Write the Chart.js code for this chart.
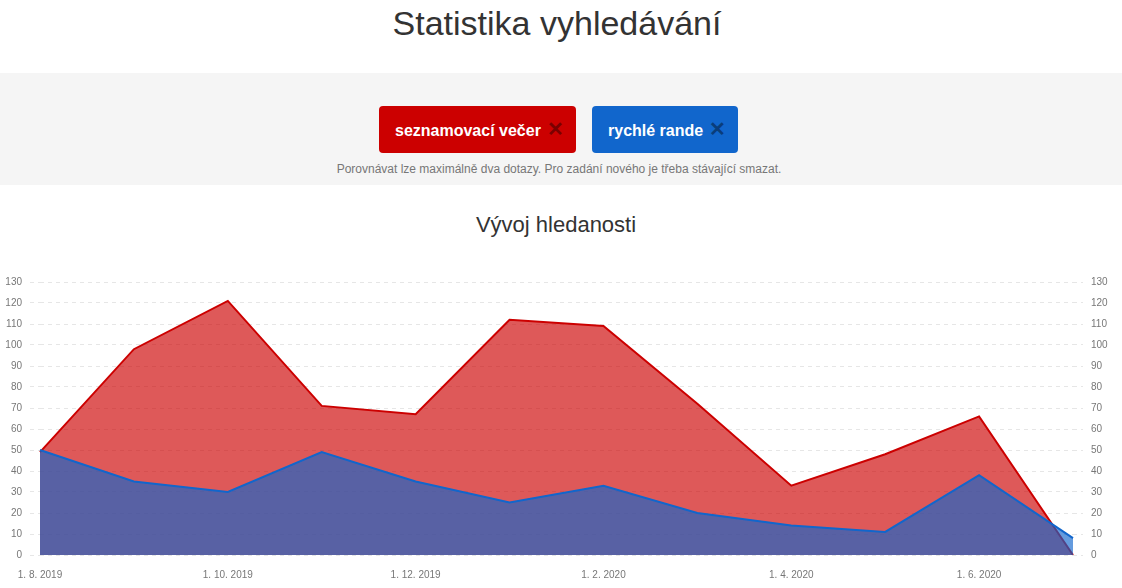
<!DOCTYPE html>
<html lang="cs">
<head>
<meta charset="utf-8">
<title>Statistika vyhledávání</title>
<script src="https://cdn.jsdelivr.net/npm/chart.js@4/dist/chart.umd.min.js"></script>
<style>
  html, body { margin: 0; padding: 0; background: #fff; font-family: "Liberation Sans", Arial, sans-serif; }
  body { width: 1122px; height: 588px; position: relative; overflow: hidden; }
  h1 { position: absolute; top: 1px; left: 0; width: 1114px; margin: 0; text-align: center;
       font-size: 34px; font-weight: normal; color: #333; line-height: 44px; }
  .band { position: absolute; top: 73px; left: 0; width: 100%; height: 112px; background: #f5f5f5; }
  .tag { position: absolute; top: 33px; height: 47px; border-radius: 4px; color: #fff;
         font-weight: bold; font-size: 16px; line-height: 47px; box-sizing: border-box; padding-left: 16px; }
  .tag span { font-size: 20px; margin-left: 6px; }
  .red { left: 379px; width: 197px; background: #cc0000; }
  .red span { color: #7a0000; }
  .blue { left: 592px; width: 146px; background: #1166cc; }
  .blue span { color: #0a3d7a; }
  .note { position: absolute; top: 89px; left: 0; width: 1118px; text-align: center; font-size: 12px; color: #777; }
  h2 { position: absolute; top: 210px; left: 0; width: 1112px; margin: 0; text-align: center;
       font-size: 22px; font-weight: normal; color: #333; line-height: 30px; }
  .wrap { position: absolute; top: 262px; left: 0; width: 1122px; height: 326px; }
</style>
</head>
<body>
<h1>Statistika vyhledávání</h1>
<div class="band">
  <div class="tag red">seznamovací večer<span>✕</span></div>
  <div class="tag blue">rychlé rande<span>✕</span></div>
  <div class="note">Porovnávat lze maximálně dva dotazy. Pro zadání nového je třeba stávající smazat.</div>
</div>
<h2>Vývoj hledanosti</h2>
<div class="wrap"><canvas id="chart"></canvas></div>
<script>
let months = ['1. 8. 2019', '1. 9. 2019', '1. 10. 2019', '1. 11. 2019', '1. 12. 2019', '1. 1. 2020',
              '1. 2. 2020', '1. 3. 2020', '1. 4. 2020', '1. 5. 2020', '1. 6. 2020', '1. 7. 2020']
let seznamovaciVecer = [49, 98, 121, 71, 67, 112, 109, 72, 33, 48, 66, 0]
let rychleRande = [50, 35, 30, 49, 35, 25, 33, 20, 14, 11, 38, 8]
let yTicks = [0, 10, 20, 30, 40, 50, 60, 70, 80, 90, 100, 110, 120, 130]

let tickFont = { family: '"Liberation Sans", Arial, sans-serif', size: 10 }

function yAxis(position, width, grid) {
    return {
        position: position,
        min: 0,
        max: 130,
        afterFit: function(s) { s.width = width },
        afterBuildTicks: function(s) { s.ticks = yTicks.map(function(v) { return { value: v } }) },
        border: { display: false },
        grid: grid,
        ticks: { color: '#777', font: tickFont, padding: 8 }
    }
}

new Chart(document.getElementById('chart'), {
    type: 'line',
    data: {
        labels: months,
        datasets: [
            {
                label: 'rychlé rande',
                data: rychleRande,
                borderColor: '#1166cc',
                backgroundColor: 'rgba(17,102,204,0.65)',
                borderWidth: 2,
                fill: 'origin',
                pointRadius: 0,
                tension: 0,
                yAxisID: 'y'
            },
            {
                label: 'seznamovací večer',
                data: seznamovaciVecer,
                borderColor: '#cc0000',
                backgroundColor: 'rgba(204,0,0,0.65)',
                borderWidth: 2,
                fill: 'origin',
                pointRadius: 0,
                tension: 0,
                yAxisID: 'y'
            }
        ]
    },
    options: {
        responsive: true,
        maintainAspectRatio: false,
        animation: false,
        layout: { padding: { top: 20, bottom: 5, left: 0, right: 0 } },
        plugins: { legend: { display: false }, tooltip: { enabled: false } },
        scales: {
            x: {
                afterFit: function(s) { s.height = 28 },
                border: { display: false },
                grid: { display: false },
                ticks: {
                    autoSkip: false,
                    maxRotation: 0,
                    color: '#777',
                    font: tickFont,
                    padding: 6,
                    callback: function(v, i) { return i % 2 === 0 ? months[i] : '' }
                }
            },
            y: yAxis('left', 40, { color: '#e6e6e6', tickLength: 10, tickColor: '#e6e6e6',
                                   tickBorderDash: [4, 4] }),
            y2: yAxis('right', 49, { drawOnChartArea: false, color: '#e6e6e6', tickLength: 10,
                                     tickBorderDash: [4, 4] })
        }
    },
    plugins: [{
        id: 'dashGrid',
        beforeDraw: function(chart) {
            chart.scales.y.options.border.dash = [4, 4]
        }
    }]
})
</script>
</body>
</html>
